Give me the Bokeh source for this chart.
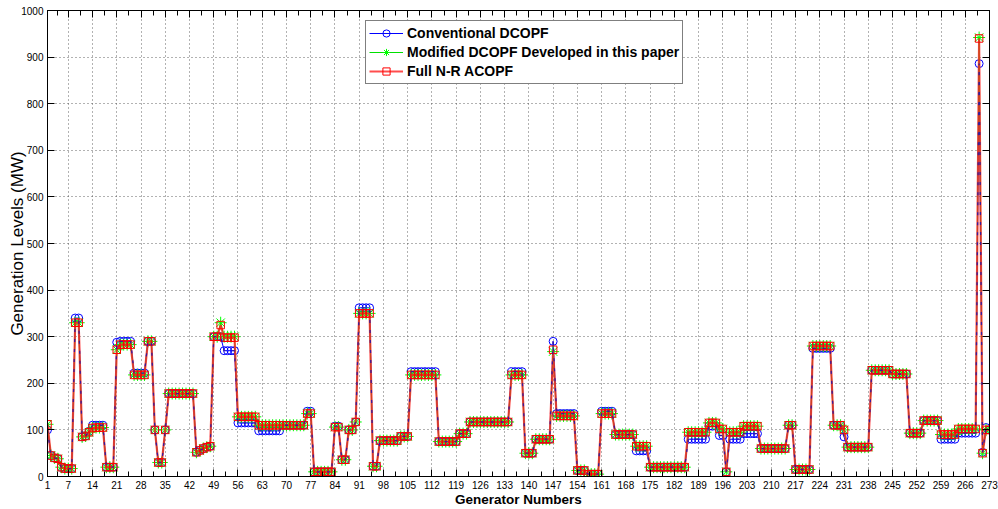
from bokeh.plotting import figure
from bokeh.models import Range1d, FixedTicker, LinearAxis, Legend, LegendItem, ColumnDataSource
from bokeh.embed import file_html
from bokeh.resources import INLINE

# ---------------- data ----------------
x_tick_labels = [1, 7, 14, 21, 28, 35, 42, 49, 56, 63, 70, 77, 84, 91, 98, 105, 112, 119,
                 126, 133, 140, 147, 154, 161, 168, 175, 182, 189, 196, 203, 210, 217,
                 224, 231, 238, 245, 252, 259, 266, 273]
y_ticks = [0, 100, 200, 300, 400, 500, 600, 700, 800, 900, 1000]

generators = list(range(1, 274))

# Full N-R ACOPF (red squares)
acopf = [
    112, 45, 40, 38, 20, 17, 17, 17, 330, 330,
    85, 87, 95, 104, 105, 105, 105, 20, 20, 20,
    272, 283, 283, 283, 283, 218, 218, 218, 218, 290,
    290, 100, 30, 30, 100, 178, 178, 178, 178, 178,
    178, 178, 178, 52, 56, 60, 63, 65, 300, 300,
    325, 298, 298, 298, 298, 128, 128, 128, 128, 128,
    128, 110, 110, 110, 110, 110, 110, 110, 110, 110,
    110, 110, 110, 110, 110, 135, 135, 10, 10, 10,
    10, 10, 10, 106, 106, 36, 36, 100, 100, 117,
    350, 350, 350, 350, 22, 22, 77, 77, 77, 77,
    77, 77, 86, 86, 86, 218, 218, 218, 218, 218,
    218, 218, 218, 75, 75, 75, 75, 75, 75, 92,
    92, 92, 117, 117, 117, 117, 117, 117, 117, 117,
    117, 117, 117, 117, 218, 218, 218, 218, 50, 50,
    50, 80, 80, 80, 80, 80, 272, 130, 130, 130,
    130, 130, 130, 13, 13, 13, 5, 5, 5, 5,
    135, 135, 135, 135, 90, 90, 90, 90, 90, 90,
    65, 65, 65, 65, 20, 20, 20, 20, 20, 20,
    20, 20, 20, 20, 20, 95, 95, 95, 95, 95,
    95, 115, 115, 115, 102, 102, 10, 95, 95, 95,
    95, 108, 108, 108, 108, 108, 60, 60, 60, 60,
    60, 60, 60, 60, 110, 110, 15, 15, 15, 15,
    15, 280, 280, 280, 280, 280, 280, 110, 110, 110,
    100, 63, 63, 63, 63, 63, 63, 63, 228, 228,
    228, 228, 228, 228, 220, 220, 220, 220, 220, 93,
    93, 93, 93, 120, 120, 120, 120, 120, 90, 90,
    90, 90, 90, 102, 102, 102, 102, 102, 102, 940,
    50, 100, 100,
]

# Modified DCOPF developed in this paper (green stars)
modified = [
    112, 45, 40, 38, 20, 17, 17, 17, 330, 330,
    85, 87, 95, 104, 105, 105, 105, 20, 20, 20,
    272, 283, 283, 283, 283, 218, 218, 218, 218, 290,
    290, 100, 30, 30, 100, 178, 178, 178, 178, 178,
    178, 178, 178, 52, 56, 60, 63, 65, 300, 300,
    330, 300, 300, 300, 300, 128, 128, 128, 128, 128,
    128, 110, 110, 110, 110, 110, 110, 110, 110, 110,
    110, 110, 110, 110, 110, 135, 135, 10, 10, 10,
    10, 10, 10, 106, 106, 36, 36, 100, 100, 117,
    350, 350, 350, 350, 22, 22, 77, 77, 77, 77,
    77, 77, 86, 86, 86, 218, 218, 218, 218, 218,
    218, 218, 218, 75, 75, 75, 75, 75, 75, 92,
    92, 92, 117, 117, 117, 117, 117, 117, 117, 117,
    117, 117, 117, 117, 218, 218, 218, 218, 50, 50,
    50, 80, 80, 80, 80, 80, 268, 130, 130, 130,
    130, 130, 130, 13, 13, 13, 5, 5, 5, 5,
    135, 135, 135, 135, 90, 90, 90, 90, 90, 90,
    65, 65, 65, 65, 20, 20, 20, 20, 20, 20,
    20, 20, 20, 20, 20, 95, 95, 95, 95, 95,
    95, 115, 115, 115, 102, 102, 10, 95, 95, 95,
    95, 108, 108, 108, 108, 108, 60, 60, 60, 60,
    60, 60, 60, 60, 110, 110, 15, 15, 15, 15,
    15, 280, 280, 280, 280, 280, 280, 110, 110, 110,
    100, 63, 63, 63, 63, 63, 63, 63, 228, 228,
    228, 228, 228, 228, 220, 220, 220, 220, 220, 93,
    93, 93, 93, 120, 120, 120, 120, 120, 90, 90,
    90, 90, 90, 102, 102, 102, 102, 102, 102, 942,
    50, 100, 100,
]

# Conventional DCOPF (blue circles)
conventional = [
    100, 45, 40, 38, 20, 17, 17, 17, 340, 340,
    85, 87, 97, 110, 110, 110, 110, 20, 20, 20,
    288, 290, 290, 290, 290, 222, 222, 222, 222, 290,
    290, 100, 30, 30, 100, 178, 178, 178, 178, 178,
    178, 178, 178, 52, 56, 60, 63, 65, 300, 300,
    300, 270, 270, 270, 270, 115, 115, 115, 115, 115,
    115, 98, 98, 98, 98, 98, 98, 98, 110, 110,
    110, 110, 110, 110, 110, 140, 140, 10, 10, 10,
    10, 10, 10, 108, 108, 36, 36, 100, 100, 117,
    362, 362, 362, 362, 22, 22, 77, 77, 77, 77,
    77, 77, 86, 86, 86, 225, 225, 225, 225, 225,
    225, 225, 225, 75, 75, 75, 75, 75, 75, 92,
    92, 92, 117, 117, 117, 117, 117, 117, 117, 117,
    117, 117, 117, 117, 225, 225, 225, 225, 50, 50,
    50, 80, 80, 80, 80, 80, 290, 135, 135, 135,
    135, 135, 135, 13, 13, 13, 5, 5, 5, 5,
    140, 140, 140, 140, 90, 90, 90, 90, 90, 90,
    55, 55, 55, 55, 20, 20, 20, 20, 20, 20,
    20, 20, 20, 20, 20, 80, 80, 80, 80, 80,
    80, 108, 108, 108, 88, 88, 10, 80, 80, 80,
    80, 92, 92, 92, 92, 92, 60, 60, 60, 60,
    60, 60, 60, 60, 110, 110, 15, 15, 15, 15,
    15, 275, 275, 275, 275, 275, 275, 110, 110, 110,
    85, 63, 63, 63, 63, 63, 63, 63, 228, 228,
    228, 228, 228, 228, 220, 220, 220, 220, 220, 93,
    93, 93, 93, 120, 120, 120, 120, 120, 80, 80,
    80, 80, 80, 93, 93, 93, 93, 93, 93, 886,
    52, 105, 100,
]

# ---------------- figure ----------------
FONT = "Liberation Sans"

src = ColumnDataSource(dict(gen=generators, conv=conventional, mod=modified, ac=acopf))

p = figure(width=998, height=509, output_backend="svg", toolbar_location=None,
           x_range=Range1d(1, 273), y_range=Range1d(0, 1000),
           min_border_left=47, min_border_right=9, min_border_top=10, min_border_bottom=0)
p.background_fill_color = "white"
p.border_fill_color = "white"
p.outline_line_color = "black"
p.outline_line_width = 1

x_minor = [(a + b) / 2 for a, b in zip(x_tick_labels[:-1], x_tick_labels[1:])]
xticker = FixedTicker(ticks=x_tick_labels, minor_ticks=x_minor)
yticker = FixedTicker(ticks=y_ticks)

def style_axis(ax, size="10px"):
    ax.axis_line_color = "black"
    ax.major_tick_line_color = "black"
    ax.minor_tick_line_color = "black"
    ax.major_tick_in = 7
    ax.major_tick_out = 0
    ax.minor_tick_in = 5
    ax.minor_tick_out = 0
    ax.major_label_text_font = FONT
    ax.major_label_text_font_size = size
    ax.major_label_text_color = "black"

xa = p.xaxis[0]
xa.ticker = xticker
style_axis(xa)
xa.major_label_standoff = 4
xa.axis_label = "Generator Numbers"
xa.axis_label_text_font = FONT
xa.axis_label_text_font_size = "13.5px"
xa.axis_label_text_font_style = "bold"
xa.axis_label_text_color = "black"
xa.axis_label_standoff = 0

ya = p.yaxis[0]
ya.ticker = yticker
style_axis(ya)
ya.minor_tick_in = 0
ya.major_label_standoff = 4
ya.axis_label = "Generation Levels (MW)"
ya.axis_label_text_font = FONT
ya.axis_label_text_font_size = "17px"
ya.axis_label_text_font_style = "normal"
ya.axis_label_text_color = "black"
ya.axis_label_standoff = -9

# box axes (ticks only, no labels)
top = LinearAxis(ticker=xticker)
style_axis(top, "1px")
top.major_label_overrides = {t: "" for t in x_tick_labels}
top.major_label_standoff = 0
p.add_layout(top, "above")

right = LinearAxis(ticker=yticker)
style_axis(right, "1px")
right.major_label_overrides = {t: "" for t in y_ticks}
right.minor_tick_in = 0
right.major_label_standoff = 0
p.add_layout(right, "right")

p.xgrid.ticker = xticker
p.ygrid.ticker = yticker
p.grid.grid_line_color = "#404040"
p.grid.grid_line_dash = "1 3"
p.grid.grid_line_alpha = 0.8
p.grid.grid_line_width = 1

# series
bl = p.line("gen", "conv", source=src, line_color="blue", line_width=1)
bs = p.scatter("gen", "conv", source=src, marker="circle", size=8,
               fill_color=None, line_color="blue", line_width=1)
gl = p.line("gen", "mod", source=src, line_color="#00e000", line_width=1)
gs = p.scatter("gen", "mod", source=src, marker="asterisk", size=12,
               line_color="#00ff00", line_width=1)
rl = p.line("gen", "ac", source=src, line_color="#ff2020", line_width=2.2, line_alpha=0.8)
rs = p.scatter("gen", "ac", source=src, marker="square", size=7.5,
               fill_color=None, line_color="red", line_width=1)
p.line("gen", "conv", source=src, line_color="#3a1a9a", line_width=1.3, line_dash="3 7")

legend = Legend(items=[
    LegendItem(label="Conventional DCOPF", renderers=[bl, bs]),
    LegendItem(label="Modified DCOPF Developed in this paper", renderers=[gl, gs]),
    LegendItem(label="Full N-R ACOPF", renderers=[rl, rs]),
], location=(318, 392))
legend.label_text_font = FONT
legend.label_text_font_size = "14px"
legend.label_text_font_style = "bold"
legend.label_text_color = "black"
legend.glyph_width = 34
legend.glyph_height = 18
legend.label_height = 18
legend.label_standoff = 4
legend.spacing = 1
legend.padding = 3
legend.margin = 0
legend.border_line_color = "black"
legend.border_line_width = 1
legend.background_fill_color = "white"
legend.background_fill_alpha = 1
p.add_layout(legend)

open("out.html", "w").write(file_html(p, INLINE))
